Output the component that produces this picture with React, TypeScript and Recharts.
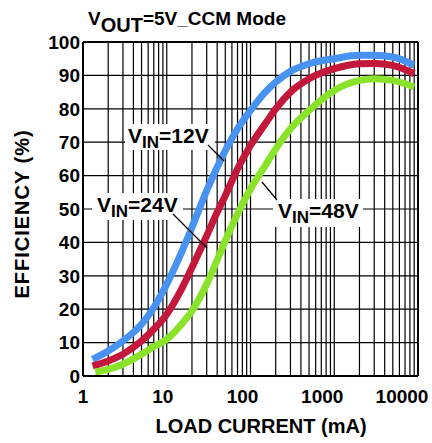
import React from 'react';
import { LineChart, Line, XAxis, YAxis, CartesianGrid, ReferenceLine } from 'recharts';

// load current (mA) / efficiency (%)
const current12 = [1.3, 2, 3, 5, 7, 10, 15, 20, 30, 40, 50, 70, 100, 150, 200, 300, 500, 1000, 2000, 3000, 5000, 9000];
const eff12 = [5, 7.5, 10.5, 15.5, 20.5, 27.5, 37, 44.5, 55.5, 62.5, 67.5, 74, 79.5, 85, 88, 91.2, 93.5, 95, 96, 96, 95.5, 93];

const current24 = [1.3, 2, 3, 5, 7, 10, 15, 20, 30, 40, 50, 70, 100, 150, 200, 300, 500, 1000, 2000, 3000, 5000, 9000];
const eff24 = [3, 4.5, 6.5, 10.5, 14, 18.5, 26, 32.5, 42, 49, 54, 62, 69, 75.5, 80, 85, 89, 92, 93.5, 93.6, 93, 90.5];

const current48 = [1.4, 2, 3, 5, 7, 10, 15, 20, 30, 50, 70, 100, 150, 200, 300, 500, 1000, 2000, 3000, 5000, 9000];
const eff48 = [1.2, 2, 3.5, 6.5, 8.8, 11, 15.5, 19.5, 27.5, 40.5, 48.5, 56, 63, 68, 74, 79.5, 85.5, 88.5, 89, 88.5, 86.5];

const xMajor = [1, 10, 100, 1000, 10000];
const yTicks = [0, 10, 20, 30, 40, 50, 60, 70, 80, 90, 100];

// decade grid: 1..9 in every decade
const xGrid: number[] = [];
xMajor.slice(0, -1).forEach((d) => {
  for (let m = 1; m < 10; m++) xGrid.push(d * m);
});
xGrid.push(10000);

const toPoints = (xs: number[], ys: number[]) => xs.map((x, i) => ({ x, y: ys[i] }));

const FONT = 'Liberation Sans, Arial, sans-serif';

const XTick = (props: any) => {
  const { x, y, payload } = props;
  if (!xMajor.includes(payload.value)) return <g />;
  const s = String(payload.value);
  return (
    <text x={x - (s.length - 1) * 4} y={y} dy="0.71em" textAnchor="middle"
      fontSize={19} fontWeight="bold" fontFamily={FONT} fill="#000">
      {s}
    </text>
  );
};

const Label = ({ x, y, v }: { x: number; y: number; v: string }) => (
  <text x={x} y={y} fontSize={21} fontWeight="bold" fontFamily={FONT} fill="#000">
    V<tspan fontSize={17} dy={5}>IN</tspan><tspan dy={-5}>{'=' + v}</tspan>
  </text>
);

export default function App() {
  return (
    <div style={{ position: 'absolute', left: 0, top: 0, width: 432, height: 443, background: '#fff' }}>
      <LineChart width={432} height={443} margin={{ top: 42, right: 14, left: 0, bottom: 0 }}>
        <CartesianGrid stroke="#000" strokeWidth={1.2} verticalValues={xGrid} horizontalValues={yTicks} />
        <XAxis dataKey="x" type="number" scale="log" domain={[1, 10000]} ticks={xGrid} interval={0}
          allowDataOverflow height={67} tickSize={0} tickMargin={14} tickLine={false}
          axisLine={{ stroke: '#000', strokeWidth: 2 }} tick={<XTick />} />
        <YAxis type="number" domain={[0, 100]} ticks={yTicks} interval={0} width={83}
          tickSize={0} tickMargin={3} tickLine={false} axisLine={{ stroke: '#000', strokeWidth: 2 }}
          tick={{ fontSize: 19, fontWeight: 'bold', fontFamily: FONT, fill: '#000' }} />
        <ReferenceLine y={100} stroke="#000" strokeWidth={2} />
        <ReferenceLine x={10000} stroke="#000" strokeWidth={2} />
        <Line data={toPoints(current12, eff12)} dataKey="y" type="monotone" stroke="#4893f2"
          strokeWidth={7} dot={false} isAnimationActive={false} />
        <Line data={toPoints(current24, eff24)} dataKey="y" type="monotone" stroke="#c4173c"
          strokeWidth={7} dot={false} isAnimationActive={false} />
        <Line data={toPoints(current48, eff48)} dataKey="y" type="monotone" stroke="#8be22b"
          strokeWidth={7} dot={false} isAnimationActive={false} />
      </LineChart>
      <svg width={432} height={443} style={{ position: 'absolute', left: 0, top: 0, pointerEvents: 'none' }}>
        <text x={88} y={25} fontSize={19} fontWeight="bold" fontFamily={FONT} fill="#000">
          V<tspan fontSize={20} dy={6.5}>OUT</tspan><tspan dy={-6.5}>=5V_CCM Mode</tspan>
        </text>
        <text x={261} y={433} textAnchor="middle" fontSize={20} fontWeight="bold" fontFamily={FONT} fill="#000">
          LOAD CURRENT (mA)
        </text>
        <text transform="translate(29,214) rotate(-90)" textAnchor="middle" fontSize={20} letterSpacing={1}
          fontWeight="bold" fontFamily={FONT} fill="#000">
          EFFICIENCY (%)
        </text>

        <rect x={125} y={124} width={90} height={26} fill="#fff" />
        <line x1={208} y1={145} x2={224} y2={161} stroke="#000" strokeWidth={1.2} />
        <Label x={128} y={143} v="12V" />

        <rect x={92} y={193} width={91} height={27} fill="#fff" />
        <line x1={173} y1={214} x2={207} y2={248} stroke="#000" strokeWidth={1.2} />
        <Label x={97} y={212} v="24V" />

        <rect x={273} y={199} width={90} height={28} fill="#fff" />
        <line x1={262} y1={182} x2={277} y2={200} stroke="#000" strokeWidth={1.2} />
        <Label x={278} y={218} v="48V" />
      </svg>
    </div>
  );
}
